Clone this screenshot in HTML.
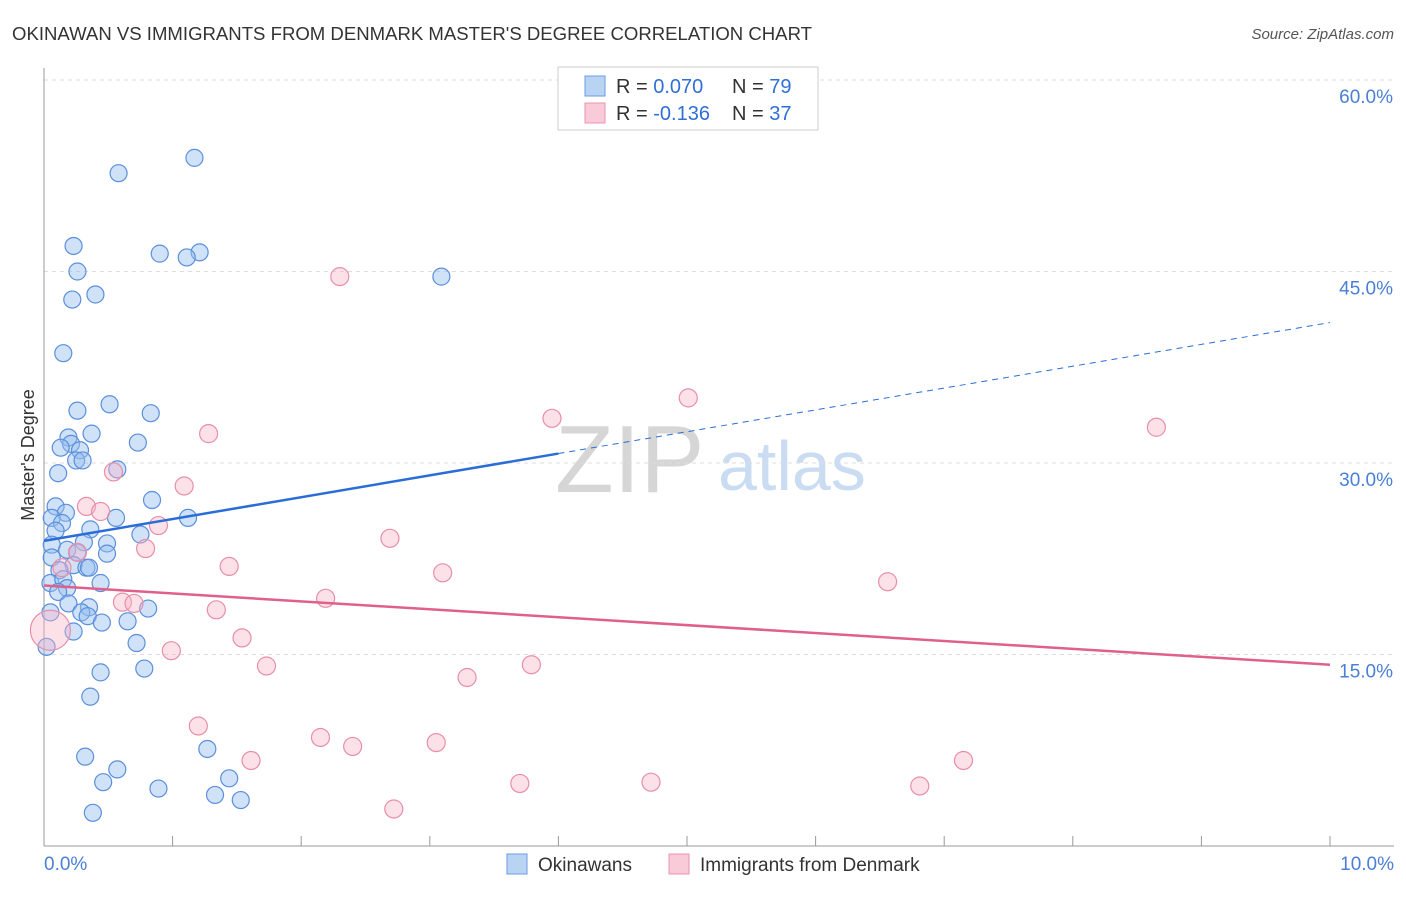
<!DOCTYPE html>
<html><head><meta charset="utf-8"><style>
body{margin:0;background:#fff;font-family:"Liberation Sans",sans-serif}
svg text{font-family:"Liberation Sans",sans-serif}
</style></head><body>
<svg width="1406" height="892" viewBox="0 0 1406 892" xmlns="http://www.w3.org/2000/svg">
<text x="12" y="40" font-size="18" fill="#333" textLength="800" lengthAdjust="spacingAndGlyphs">OKINAWAN VS IMMIGRANTS FROM DENMARK MASTER'S DEGREE CORRELATION CHART</text>
<text x="1394" y="39" font-size="15" fill="#555" text-anchor="end" font-style="italic">Source: ZipAtlas.com</text>
<text x="0" y="0" font-size="18" fill="#333" transform="translate(34,455) rotate(-90)" text-anchor="middle">Master's Degree</text>
<g>
<text x="555" y="492" font-size="96" fill="#d6d6d6" font-family="Liberation Serif">ZIP</text>
<text x="718" y="490" font-size="70" fill="#c9dcf2">atlas</text>
</g>
<g id="grid"></g>
<g id="axes"></g>
<g id="marks"></g>
<g>
<rect x="558" y="67" width="260" height="63" fill="#fff" stroke="#ccc"/>
<rect x="585" y="76" width="20" height="20" fill="#b9d3f3" stroke="#6b9be0"/>
<rect x="585" y="103" width="20" height="20" fill="#f9cad8" stroke="#e993b0"/>
<text x="616" y="93" font-size="20" fill="#333">R = <tspan fill="#2f6fd6">0.070</tspan></text>
<text x="732" y="93" font-size="20" fill="#333">N = <tspan fill="#2f6fd6">79</tspan></text>
<text x="616" y="120" font-size="20" fill="#333">R = <tspan fill="#2f6fd6">-0.136</tspan></text>
<text x="732" y="120" font-size="20" fill="#333">N = <tspan fill="#2f6fd6">37</tspan></text>
</g>
<g>
<rect x="507" y="854" width="20" height="20" fill="#b9d3f3" stroke="#6b9be0"/>
<text x="538" y="871" font-size="19" fill="#333">Okinawans</text>
<rect x="669" y="854" width="20" height="20" fill="#f9cad8" stroke="#e993b0"/>
<text x="700" y="871" font-size="19" fill="#333">Immigrants from Denmark</text>
</g>
</svg>
<script>
const yTicks=[15,30,45,60];
const yTickLabels=["15.0%","30.0%","45.0%","60.0%"];
const xTickLabels=["0.0%","10.0%"];
const blueX=[1.17,0.58,0.23,0.90,1.21,1.11,0.26,3.09,0.40,0.22,0.15,0.51,0.26,0.83,0.37,0.19,0.73,0.21,0.13,0.28,0.25,0.30,0.57,0.11,0.84,0.09,0.17,0.56,1.12,0.06,0.14,0.36,0.09,0.75,0.31,0.49,0.06,0.18,0.26,0.49,0.06,0.23,0.33,0.35,0.12,0.44,0.05,0.15,0.18,0.11,0.19,0.35,0.81,0.29,0.05,0.34,0.45,0.65,0.23,0.72,0.02,0.78,0.44,0.36,1.27,0.32,0.57,1.44,0.46,0.89,1.33,1.53,0.38];
const blueY=[53.9,52.7,47.0,46.4,46.5,46.1,45.0,44.6,43.2,42.8,38.6,34.6,34.1,33.9,32.3,32.0,31.6,31.5,31.2,31.0,30.2,30.2,29.5,29.2,27.1,26.6,26.1,25.7,25.7,25.7,25.3,24.8,24.7,24.4,23.8,23.7,23.6,23.2,23.0,22.9,22.6,22.0,21.8,21.8,21.6,20.6,20.6,20.9,20.2,19.9,19.0,18.7,18.6,18.3,18.3,18.0,17.5,17.6,16.8,15.9,15.6,13.9,13.6,11.7,7.6,7.0,6.0,5.3,5.0,4.5,4.0,3.6,2.6];
const pinkX=[2.30,5.01,3.95,8.65,1.28,1.09,0.54,0.33,0.44,0.89,0.79,2.69,0.26,1.44,3.10,6.56,0.14,0.61,0.70,2.19,1.34,1.54,0.05,0.99,1.73,3.79,3.29,1.20,2.15,2.40,3.05,1.61,7.15,3.70,4.72,6.81,2.72];
const pinkY=[44.6,35.1,33.5,32.8,32.3,28.2,29.3,26.6,26.2,25.1,23.3,24.1,23.0,21.9,21.4,20.7,21.8,19.1,19.0,19.4,18.5,16.3,16.9,15.3,14.1,14.2,13.2,9.4,8.5,7.8,8.1,6.7,6.7,4.9,5.0,4.7,2.9];
const pinkR=[9,9,9,9,9,9,9,9,9,9,9,9,9,9,9,9,9,9,9,9,9,9,20,9,9,9,9,9,9,9,9,9,9,9,9,9,9];
const blueTrend=[23.9,41.0];
const pinkTrend=[20.4,14.2];
const blueSolidEnd=4.0;
const X0=44,X1=1330,Y0=846,PXPER=766/60;
const sx=v=>X0+(X1-X0)*v/10;
const sy=v=>Y0-v*PXPER;
const NS="http://www.w3.org/2000/svg";
function mk(t,a,p){const e=document.createElementNS(NS,t);for(const k in a)e.setAttribute(k,a[k]);p.appendChild(e);return e;}
const grid=document.getElementById('grid'),axes=document.getElementById('axes'),marks=document.getElementById('marks');
yTicks.forEach((v,i)=>{
 const l=mk('line',{x1:X0,x2:1394,y1:sy(v),y2:sy(v),stroke:'#ddd','stroke-dasharray':'4,4'},grid);
 
 
 const t=mk('text',{x:1393,y:sy(v)+23,'font-size':19,fill:'#4a7fd6','text-anchor':'end'},grid);
 t.textContent=yTickLabels[i];
 
 
});
const ya=mk('line',{x1:X0,x2:X0,y1:68,y2:Y0,stroke:'#999'},axes);


const xa=mk('line',{x1:X0,x2:1394,y1:Y0,y2:Y0,stroke:'#999'},axes);


for(let i=0;i<=10;i++){
 const tk=mk('line',{x1:sx(i),x2:sx(i),y1:Y0,y2:Y0-10,stroke:'#999'},axes);
 
 
}
[[0,'start',44],[10,'end',1394]].forEach((d,i)=>{
 const t=mk('text',{x:d[2],y:870,'font-size':19,fill:'#4a7fd6','text-anchor':d[1]},axes);
 t.textContent=xTickLabels[i];
 
 
});
blueX.forEach((x,i)=>{
 const c=mk('circle',{cx:sx(x),cy:sy(blueY[i]),r:8.5,fill:'rgba(150,190,240,0.45)',stroke:'#5b8fdc','stroke-width':1.2},marks);
 
 
});
pinkX.forEach((x,i)=>{
 const c=mk('circle',{cx:sx(x),cy:sy(pinkY[i]),r:pinkR[i],fill:'rgba(248,180,200,0.4)',stroke:'#e88eaa','stroke-width':1.2},marks);
 
 
});
const bAt=x=>blueTrend[0]+(blueTrend[1]-blueTrend[0])*x/10;
const bl=mk('line',{x1:sx(0),y1:sy(bAt(0)),x2:sx(blueSolidEnd),y2:sy(bAt(blueSolidEnd)),stroke:'#2a6dd6','stroke-width':2.5},marks);


const bd=mk('line',{x1:sx(blueSolidEnd),y1:sy(bAt(blueSolidEnd)),x2:sx(10),y2:sy(bAt(10)),stroke:'#2a6dd6','stroke-width':1,'stroke-dasharray':'6,5'},marks);


const pl=mk('line',{x1:sx(0),y1:sy(pinkTrend[0]),x2:sx(10),y2:sy(pinkTrend[1]),stroke:'#e0608c','stroke-width':2.5},marks);


</script>
</body></html>
